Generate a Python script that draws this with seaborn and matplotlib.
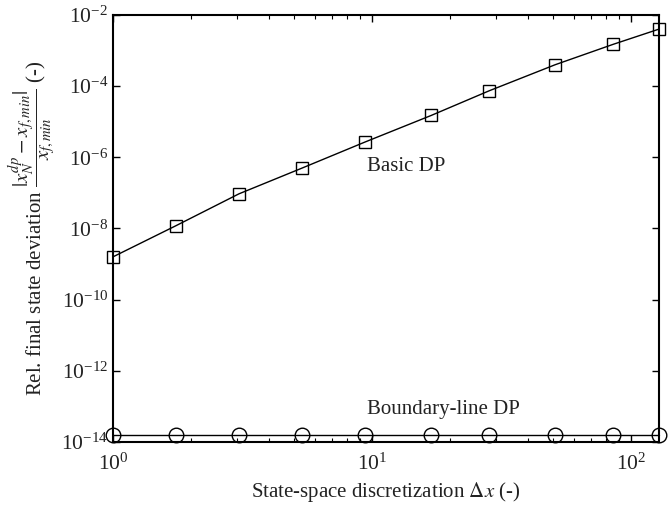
import matplotlib
matplotlib.use("Agg")
import matplotlib.pyplot as plt
import seaborn as sns
import numpy as np
from matplotlib.ticker import LogLocator, FixedLocator, NullLocator, NullFormatter

# Data
dx = [1.0, 1.75, 3.06, 5.37, 9.4, 16.9, 28.3, 50.9, 85.3, 128.0]
basic_dp = [1.6e-9, 1.2e-8, 9.4e-8, 5.0e-7, 2.7e-6, 1.5e-5, 7.4e-5, 4.0e-4, 1.5e-3, 4.0e-3]
boundary_dp = [1.6e-14] * 10
y_ticks = [1e-14, 1e-12, 1e-10, 1e-8, 1e-6, 1e-4, 1e-2]

sns.set_style("ticks")
plt.rcParams['font.family'] = ['Liberation Serif', 'DejaVu Serif']
plt.rcParams['mathtext.fontset'] = 'stix'
plt.rcParams['xtick.direction'] = 'in'
plt.rcParams['ytick.direction'] = 'in'

fig = plt.figure(figsize=(6.69, 5.09), dpi=100)
ax = fig.add_axes([0.169, 0.1316, 0.816, 0.839])

sns.lineplot(x=dx, y=basic_dp, ax=ax, color='k', linewidth=1.0, marker='s',
             markersize=9, markerfacecolor='none', markeredgecolor='k',
             markeredgewidth=1.0, clip_on=False)
sns.lineplot(x=dx, y=boundary_dp, ax=ax, color='k', linewidth=1.0, marker='o',
             markersize=10.5, markerfacecolor='none', markeredgecolor='k',
             markeredgewidth=1.0, clip_on=False)

ax.set_xscale('log')
ax.set_yscale('log')
ax.set_xlim(1, 128)
ax.set_ylim(1e-14, 1e-2)

ax.yaxis.set_major_locator(FixedLocator(y_ticks))
ax.yaxis.set_minor_locator(NullLocator())
ax.xaxis.set_major_locator(LogLocator(base=10))
ax.xaxis.set_minor_locator(LogLocator(base=10, subs=np.arange(2, 10)))
ax.xaxis.set_minor_formatter(NullFormatter())

ax.tick_params(which='both', top=True, right=True, direction='in', labelsize=15.5,
               colors='k', labelcolor='#222222')
ax.tick_params(which='major', length=5, width=1)
ax.tick_params(which='minor', length=3, width=0.8)
ax.tick_params(axis='x', pad=8)

for s in ax.spines.values():
    s.set_visible(True)
    s.set_linewidth(1.5)
    s.set_color('k')

ax.text(9.57, 5.4e-7, 'Basic DP', fontsize=15, ha='left', va='center', color='#222222')
ax.text(9.57, 8e-14, 'Boundary-line DP', fontsize=15, ha='left', va='center', color='#222222')

ax.set_xlabel(r'State-space discretization $\Delta x$ (-)', fontsize=15, color='#222222')
ax.set_ylabel(r'Rel. final state deviation $\dfrac{|x_N^{dp}-x_{f,min}|}{x_{f,min}}$ (-)',
              fontsize=15, color='#222222', labelpad=2)

fig.savefig('out.png', dpi=100)
